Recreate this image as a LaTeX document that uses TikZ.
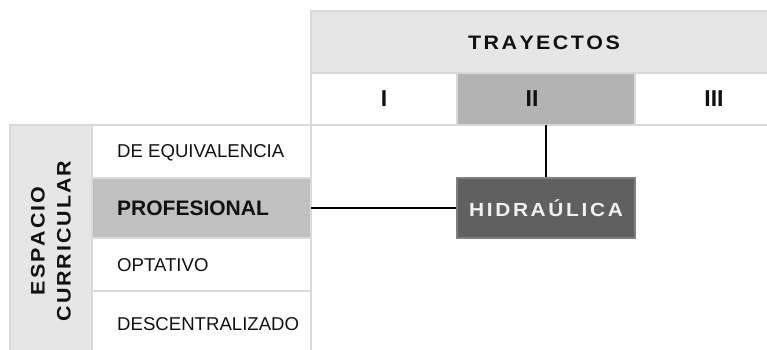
\documentclass[tikz,border=0pt]{standalone}
\usepackage{fontspec}
\usepackage{graphicx}
\setmainfont{Liberation Sans}
\newcommand\spc[2]{\def\spckern{#1}\spcloop#2\relax}
\def\spcloop#1{\ifx#1\relax\kern-\spckern\else#1\kern\spckern\expandafter\spcloop\fi}
\newcommand\wide[2]{\scalebox{1.1}[1]{\spc{#1}{#2}}}
\definecolor{gridc}{HTML}{D9D9D9}
\definecolor{lightfill}{HTML}{E6E6E6}
\definecolor{midfill}{HTML}{B3B3B3}
\definecolor{proffill}{HTML}{C0C0C0}
\definecolor{boxfill}{HTML}{606060}
\definecolor{boxline}{HTML}{808080}
\definecolor{txt}{HTML}{111111}
\begin{document}
\begin{tikzpicture}[x=1pt,y=-1pt,
  cell/.style={draw=gridc, line width=1.5pt, inner sep=0pt, outer sep=0pt, anchor=north west},
  rowtxt/.style={anchor=west, inner sep=0pt, text=txt, font=\fontsize{18.6}{20}\selectfont},
  coltxt/.style={inner sep=0pt, text=txt, font=\fontsize{23}{24}\selectfont\bfseries},
  link/.style={line width=1.8pt, black}]
\useasboundingbox (0,0) rectangle (767,349);
\begin{scope}
\clip (0,0) rectangle (767,349);
% header
\node[cell, fill=lightfill, minimum width=460pt, minimum height=62pt] (head) at (311,11) {};
\node[inner sep=0pt, text=txt, font=\fontsize{19.5}{21}\selectfont\bfseries] (trayt) at (544,42.5) {\wide{2.2pt}{TRAYECTOS}};
% columns
\node[cell, minimum width=146pt, minimum height=52pt] (ci) at (311,73) {};
\node[cell, fill=midfill, minimum width=178pt, minimum height=52pt] (cii) at (457,73) {};
\node[cell, minimum width=136pt, minimum height=52pt] (ciii) at (635,73) {};
\node[coltxt] (ti) at (384,99) {I};
\node[coltxt] (tii) at (532,99) {II};
\node[coltxt] (tiii) at (714,99) {III};
% horizontal grid line across
\draw[gridc, line width=1.5pt] (10,125) -- (770,125);
% left column
\node[cell, fill=lightfill, minimum width=82pt, minimum height=240pt] (esp) at (10,125) {};
\node[rotate=90, align=center, inner sep=0pt, text=txt, font=\fontsize{19.5}{26}\selectfont\bfseries] (esptxt) at (51,241) {\wide{1.8pt}{ESPACIO}\\\wide{1.8pt}{CURRICULAR}};
% rows
\node[cell, minimum width=219pt, minimum height=53pt] (r1) at (92,125) {};
\node[cell, fill=proffill, minimum width=219pt, minimum height=60pt] (r2) at (92,178) {};
\node[cell, minimum width=219pt, minimum height=53pt] (r3) at (92,238) {};
\node[cell, minimum width=219pt, minimum height=70pt] (r4) at (92,291) {};
\node[rowtxt] (t1) at (117,153) {DE EQUIVALENCIA};
\node[rowtxt, font=\fontsize{21}{22}\selectfont\bfseries] (t2) at (117,208.5) {PROFESIONAL};
\node[rowtxt] (t3) at (117,265) {OPTATIVO};
\node[rowtxt] (t4) at (117,324) {DESCENTRALIZADO};
% vertical grid line
\draw[gridc, line width=1.5pt] (311,11) -- (311,352);
\end{scope}
% box
\node[draw=boxline, fill=boxfill, line width=1.5pt, minimum width=178pt, minimum height=60pt, inner sep=0pt, text={rgb,255:red,240;green,240;blue,240}, font=\fontsize{19}{20}\selectfont\bfseries] (hid) at (546,208) {\wide{2.4pt}{HIDRAÚLICA}};
% connectors
\draw[link] (cii.south) -- (hid.north);
\draw[link] (r2.east) -- (hid.west);
\end{tikzpicture}
\end{document}
